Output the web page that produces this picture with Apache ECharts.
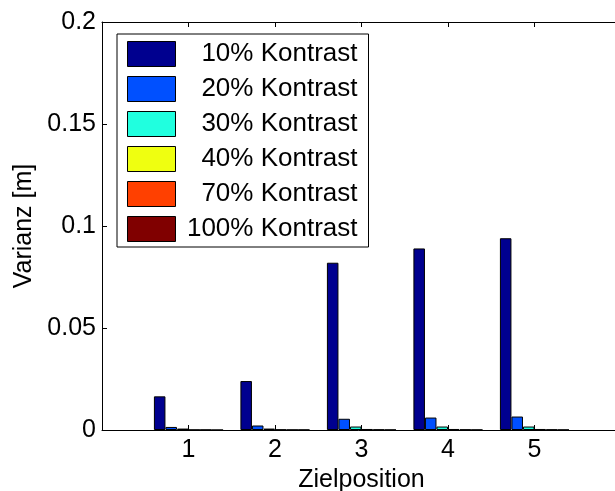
<!DOCTYPE html>
<html>
<head>
<meta charset="utf-8">
<title>Varianz je Zielposition</title>
<script src="https://cdn.jsdelivr.net/npm/echarts@6/dist/echarts.min.js"></script>
<style>
  html, body { margin: 0; padding: 0; background: #fff; }
  #chart { width: 615px; height: 491px; }
</style>
</head>
<body>
<div id="chart"></div>
<script>
// Zielpositionen (x axis runs from 0 to 6, positions 1..5 carry bars)
const positions = ['1', '2', '3', '4', '5'];

const seriesNames = ['10% Kontrast', '20% Kontrast', '30% Kontrast', '40% Kontrast', '70% Kontrast', '100% Kontrast'];

// Varianz [m] per contrast level, one entry per Zielposition
const var10 = [0.0165, 0.0240, 0.0820, 0.0890, 0.0940];
const var20 = [0.0015, 0.0022, 0.0055, 0.0061, 0.0066];
const var30 = [0.0007, 0.0007, 0.0017, 0.0017, 0.0017];
const var40 = [0.0001, 0.0002, 0.0005, 0.0005, 0.0005];
const var70 = [0.0001, 0.0001, 0.0002, 0.0002, 0.0002];
const var100 = [0.0000, 0.0001, 0.0001, 0.0001, 0.0001];

const yTicks = [0, 0.05, 0.1, 0.15, 0.2];

const colors = ['#00008f', '#0050ff', '#20ffdf', '#efff10', '#ff4000', '#800000'];
const values = [var10, var20, var30, var40, var70, var100];

const FONT = 'Liberation Sans, Arial, Helvetica, sans-serif';
const FS = 25;
const LEGEND_FS = 26;

// axis categories padded with empty slots at 0 and 6
const axisCats = [''].concat(positions, ['']);
const pad = arr => ['-'].concat(arr, ['-']);

const chart = echarts.init(document.getElementById('chart'), null, { renderer: 'canvas' });

const series = seriesNames.map((name, i) => ({
  name: name,
  type: 'bar',
  xAxisIndex: 0,
  yAxisIndex: 0,
  data: pad(values[i]),
  barWidth: '13.33%',
  barGap: '0%',
  itemStyle: { color: colors[i], borderColor: '#000', borderWidth: 1 },
  emphasis: { disabled: true },
  animation: false
}));

chart.setOption({
  animation: false,
  backgroundColor: '#fff',
  textStyle: { fontFamily: FONT },
  grid: { left: 102, right: -6, top: 22, bottom: 61, containLabel: false, outerBoundsMode: 'none' },
  xAxis: [
    {
      type: 'category',
      position: 'bottom',
      data: axisCats,
      boundaryGap: false,
      name: 'Zielposition',
      nameLocation: 'middle',
      nameGap: 21,
      nameTextStyle: { color: '#000', fontSize: FS, fontFamily: FONT },
      axisLine: { show: true, onZero: false, lineStyle: { color: '#000', width: 1 } },
      axisTick: { show: true, inside: true, length: 5, interval: 0, lineStyle: { color: '#000' } },
      axisLabel: { interval: 0, color: '#000', fontSize: FS, fontFamily: FONT, margin: 8 },
      splitLine: { show: false }
    },
    {
      type: 'category',
      position: 'top',
      data: axisCats,
      boundaryGap: false,
      axisLine: { show: true, onZero: false, lineStyle: { color: '#000', width: 1 } },
      axisTick: { show: true, inside: true, length: 5, interval: 0, lineStyle: { color: '#000' } },
      axisLabel: { show: false },
      splitLine: { show: false }
    }
  ],
  yAxis: {
    type: 'value',
    min: yTicks[0],
    max: yTicks[yTicks.length - 1],
    interval: yTicks[1] - yTicks[0],
    name: 'Varianz [m]',
    nameLocation: 'middle',
    nameGap: 54,
    nameTextStyle: { color: '#000', fontSize: FS, fontFamily: FONT },
    axisLine: { show: true, lineStyle: { color: '#000', width: 1 } },
    axisTick: { show: true, inside: true, length: 5, lineStyle: { color: '#000' } },
    axisLabel: {
      color: '#000', fontSize: FS, fontFamily: FONT, margin: 6,
      formatter: v => String(Math.round(v * 1000) / 1000)
    },
    splitLine: { show: false }
  },
  legend: {
    show: true,
    orient: 'vertical',
    left: 117,
    top: 34,
    padding: [7, 11, 5, 10],
    itemWidth: 48,
    itemHeight: 25,
    itemGap: 9,
    icon: 'rect',
    selectedMode: false,
    backgroundColor: '#fff',
    borderColor: '#000',
    borderWidth: 1,
    itemStyle: { borderColor: '#000', borderWidth: 1 },
    formatter: name => '{t|' + name + '}',
    textStyle: {
      color: '#000',
      fontFamily: FONT,
      fontSize: LEGEND_FS,
      rich: {
        t: { width: 177, align: 'right', fontSize: LEGEND_FS, fontFamily: FONT, lineHeight: 25, color: '#000' }
      }
    },
    data: seriesNames
  },
  series: series
});
</script>
</body>
</html>
